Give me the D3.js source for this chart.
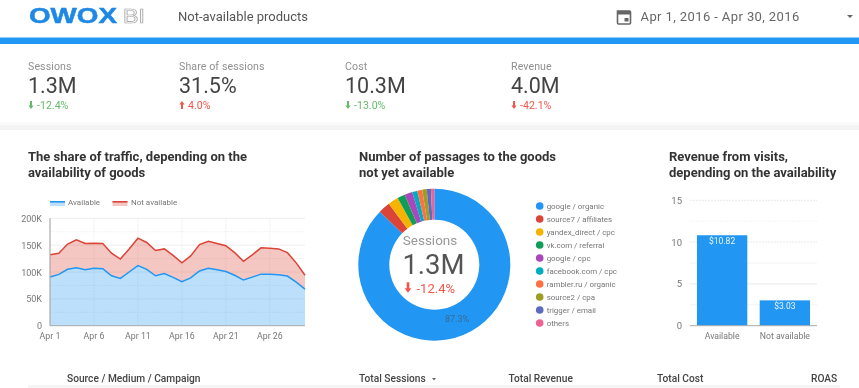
<!DOCTYPE html>
<html><head><meta charset="utf-8">
<script src="https://cdn.jsdelivr.net/npm/d3@7/dist/d3.min.js"></script>
<style>html,body{margin:0;padding:0;background:#fff}svg{display:block;font-family:Roboto,sans-serif;filter:blur(.4px)}</style>
</head><body><svg id="c" width="859" height="388"></svg>
<script>
const days = d3.range(1, 31);
const available = [90.7,95.6,105,108,104,107,106,93,88,100,112,105,93,97,90,82,89,102,107,104,101,94,85,90.5,96,96,95,92.5,81,68];
const notAvailable = [41.3,39.4,47,52,49,46.5,47,42,36,43,51,50,47,46,41,35,41,49,50,49,48,42,35,41.5,49,48,48,43.5,36,26];
const areaTicks = [0,50,100,150,200];
const dayTicks = [1,6,11,16,21,26];
const sliceNames = ["google / organic","source7 / affiliates","yandex_direct / cpc","vk.com / referral","google / cpc","facebook.com / cpc","rambler.ru / organic","source2 / cpa","trigger / email","others"];
const sliceValues = [87.3,2.5,2.2,1.65,1.65,1.1,1.05,0.95,0.9,0.7];
const sliceColors = ["#2196f3","#db4437","#f4b400","#0f9d58","#ab47bc","#00acc1","#ff7043","#9e9d24","#5c6bc0","#f06292"];
const barNames = ["Available","Not available"];
const barValues = [10.82,3.03];
const barTicks = [0,5,10,15];
const kpiNames = ["Sessions","Share of sessions","Cost","Revenue"];
const kpiValues = ["1.3M","31.5%","10.3M","4.0M"];
const kpiDeltas = ["-12.4%","4.0%","-13.0%","-42.1%"];
const kpiUp = [false,true,false,false];
const kpiGood = [true,false,true,false];
const tableHeads = ["Source / Medium / Campaign","Total Sessions","Total Revenue","Total Cost","ROAS"];

const svg = d3.select("#c");
const txt = (x,y,s,size,fill,opt={}) => svg.append("text").attr("x",x).attr("y",y).attr("font-size",size).attr("fill",fill)
  .attr("font-weight",opt.w||400).attr("text-anchor",opt.a||"start").attr("font-family",opt.f||null).text(s);
const arrow = (x,y,up,col,s=1) => {
  const g = svg.append("g").attr("transform",`translate(${x},${y}) scale(${s}) ${up?"":"rotate(180)"}`);
  g.append("path").attr("d","M0,-4L2.6,-.6L1,-.6L1,4L-1,4L-1,-.6L-2.6,-.6Z").attr("fill",col);
};

// header
txt(29,22.7,"OWOX",21.5,"#1e88e5",{w:700,f:"'Liberation Sans'"}).attr("textLength",88).attr("lengthAdjust","spacingAndGlyphs").attr("stroke","#1e88e5").attr("stroke-width",.5);
txt(123,22.7,"BI",21,"#fff",{f:"'Liberation Sans'"}).attr("stroke","#999").attr("stroke-width",.7).attr("textLength",22).attr("lengthAdjust","spacingAndGlyphs");
txt(178,21,"Not-available products",13,"#555");
svg.append("path").attr("d","M617.5,11h12a1,1 0 0 1 1,1v11a1,1 0 0 1 -1,1h-11a1,1 0 0 1 -1,-1z").attr("fill","none").attr("stroke","#666").attr("stroke-width",1.6);
svg.append("rect").attr("x",617.5).attr("y",11).attr("width",13).attr("height",3.5).attr("fill","#666");
svg.append("rect").attr("x",624.5).attr("y",18).attr("width",4).attr("height",3.5).attr("fill","#666");
txt(640.5,21,"Apr 1, 2016 - Apr 30, 2016",13,"#666").attr("letter-spacing",.4);
svg.append("path").attr("d","M847,15h6l-3,3z").attr("fill","#666");
svg.append("rect").attr("x",0).attr("y",37).attr("width",859).attr("height",1).attr("fill","#90caf9");
svg.append("rect").attr("x",0).attr("y",38).attr("width",859).attr("height",6).attr("fill","#2196f3");
svg.append("rect").attr("x",0).attr("y",122).attr("width",859).attr("height",3).attr("fill","#fafafa");
svg.append("rect").attr("x",0).attr("y",125).attr("width",859).attr("height",5).attr("fill","#f4f4f4");

// KPIs
const kpiX = [28,179,345,511];
kpiNames.forEach((n,i)=>{
  const x = kpiX[i], col = kpiGood[i] ? "#66bb6a" : "#f4554a";
  txt(x,70,n,10.6,"#909090").attr("letter-spacing",.1);
  txt(x,93,kpiValues[i],21.5,"#444");
  arrow(x+3,105,kpiUp[i],col);
  txt(x+9,109,kpiDeltas[i],10.6,col);
});

// titles
const title = (x,y,s)=>txt(x,y,s,13,"#333",{w:700});
title(28,161,"The share of traffic, depending on the");
title(28,177,"availability of goods");
title(359,161,"Number of passages to the goods");
title(359,177,"not yet available");
title(669,161,"Revenue from visits,");
title(669,177,"depending on the availability");

// area chart
const ax = d3.scaleLinear().domain([1,30]).range([50,305]);
const ay = d3.scaleLinear().domain([0,200]).range([325.7,218.3]);
const gridG = svg.append("g");
d3.range(0,201,25).forEach(v=>{ if(v) gridG.append("line").attr("x1",50).attr("x2",305).attr("y1",ay(v)).attr("y2",ay(v))
  .attr("stroke",v%50?"#f2f2f2":"#eee").attr("stroke-dasharray",v%50?"2,1":null); });
dayTicks.forEach(d=>{ if(d>1) gridG.append("line").attr("x1",ax(d)).attr("x2",ax(d)).attr("y1",218.3).attr("y2",325.7).attr("stroke","#eee").attr("stroke-dasharray","2,1"); });
const rows = days.map((d,i)=>({d,available:available[i],notAvailable:notAvailable[i]}));
const stack = d3.stack().keys(["available","notAvailable"])(rows);
const colors = ["#2196f3","#db4437"];
const area = d3.area().x(d=>ax(d.data.d)).y0(d=>ay(d[0])).y1(d=>ay(d[1]));
const line = d3.line().x(d=>ax(d.data.d)).y(d=>ay(d[1]));
stack.forEach((s,i)=>{
  svg.append("path").attr("d",area(s)).attr("fill",colors[i]).attr("fill-opacity",.3);
});
stack.forEach((s,i)=>{
  svg.append("path").attr("d",line(s)).attr("fill","none").attr("stroke",colors[i]).attr("stroke-width",1.5);
});
svg.append("line").attr("x1",50).attr("x2",50).attr("y1",218.3).attr("y2",325.7).attr("stroke","#aaa").attr("stroke-width",1.2);
svg.append("line").attr("x1",50).attr("x2",305).attr("y1",325.7).attr("y2",325.7).attr("stroke","#aaa").attr("stroke-width",1);
areaTicks.forEach(v=>txt(42,ay(v)+3.5,v?v+"K":"0",9,"#777",{a:"end"}));
dayTicks.forEach(d=>txt(ax(d),339,"Apr "+d,8.8,"#777",{a:"middle"}));
// area legend
[[50,"Available",0,68],[112.5,"Not available",1,131]].forEach(([x,s,i,tx])=>{
  svg.append("rect").attr("x",x).attr("y",201).attr("width",15).attr("height",5).attr("fill",colors[i]).attr("fill-opacity",.3);
  svg.append("rect").attr("x",x).attr("y",201).attr("width",15).attr("height",1.6).attr("fill",colors[i]);
  txt(tx,204.8,s,8,"#777");
});

// donut
const pie = d3.pie().sort(null).value(d=>d)(sliceValues);
const arc = d3.arc().innerRadius(45).outerRadius(76);
const dg = svg.append("g").attr("transform","translate(434.3,264.7)");
dg.selectAll("path").data(pie).join("path").attr("d",arc).attr("fill",(d,i)=>sliceColors[i]);
txt(430,245,"Sessions",13.5,"#999",{a:"middle"});
txt(433.5,273.5,"1.3M",27.5,"#555",{a:"middle"});
arrow(408,287.5,false,"#f4554a",1.3);
txt(416.5,292.5,"-12.4%",13,"#f4554a");
txt(457,321.7,"87.3%",9,"#3a6a92",{a:"middle"});
sliceNames.forEach((n,i)=>{
  const y = 206+i*13;
  svg.append("circle").attr("cx",539.7).attr("cy",y).attr("r",3.8).attr("fill",sliceColors[i]);
  txt(546.7,y+3,n,7.9,"#777");
});

// bars
const bx = d3.scaleBand().domain(barNames).range([690,817]).paddingInner(.198).paddingOuter(.111);
const by = d3.scaleLinear().domain([0,15]).range([325.7,200.3]);
d3.range(2.5,15.1,2.5).forEach(v=>svg.append("line").attr("x1",690).attr("x2",817).attr("y1",by(v)).attr("y2",by(v))
  .attr("stroke",v%5?"#f3f3f3":"#e9e9e9").attr("stroke-dasharray",v===15||v===12.5||v===10?"2,1":null));
barNames.forEach((n,i)=>{
  svg.append("rect").attr("x",bx(n)).attr("width",bx.bandwidth()).attr("y",by(barValues[i])).attr("height",by(0)-by(barValues[i])).attr("fill","#2196f3");
  txt(bx(n)+bx.bandwidth()/2,by(barValues[i])+8.5,"$"+barValues[i].toFixed(2),8.5,"#eaf5fe",{a:"middle"});
  txt(bx(n)+bx.bandwidth()/2,339,n,8.7,"#777",{a:"middle"});
});
svg.append("line").attr("x1",690).attr("x2",817).attr("y1",325.7).attr("y2",325.7).attr("stroke","#aaa");
barTicks.forEach(v=>txt(682,by(v)+3.5,v,9.5,"#777",{a:"end"}));

// table head
const headX = [67,359,508.5,657,811];
tableHeads.forEach((h,i)=>txt(headX[i],382,h,10.2,"#444",{w:500}));
svg.append("path").attr("d","M432,378h4l-2,2.5z").attr("fill","#666");
svg.append("rect").attr("x",28).attr("y",385).attr("width",812).attr("height",3).attr("fill","#f5f5f5");
</script></body></html>
